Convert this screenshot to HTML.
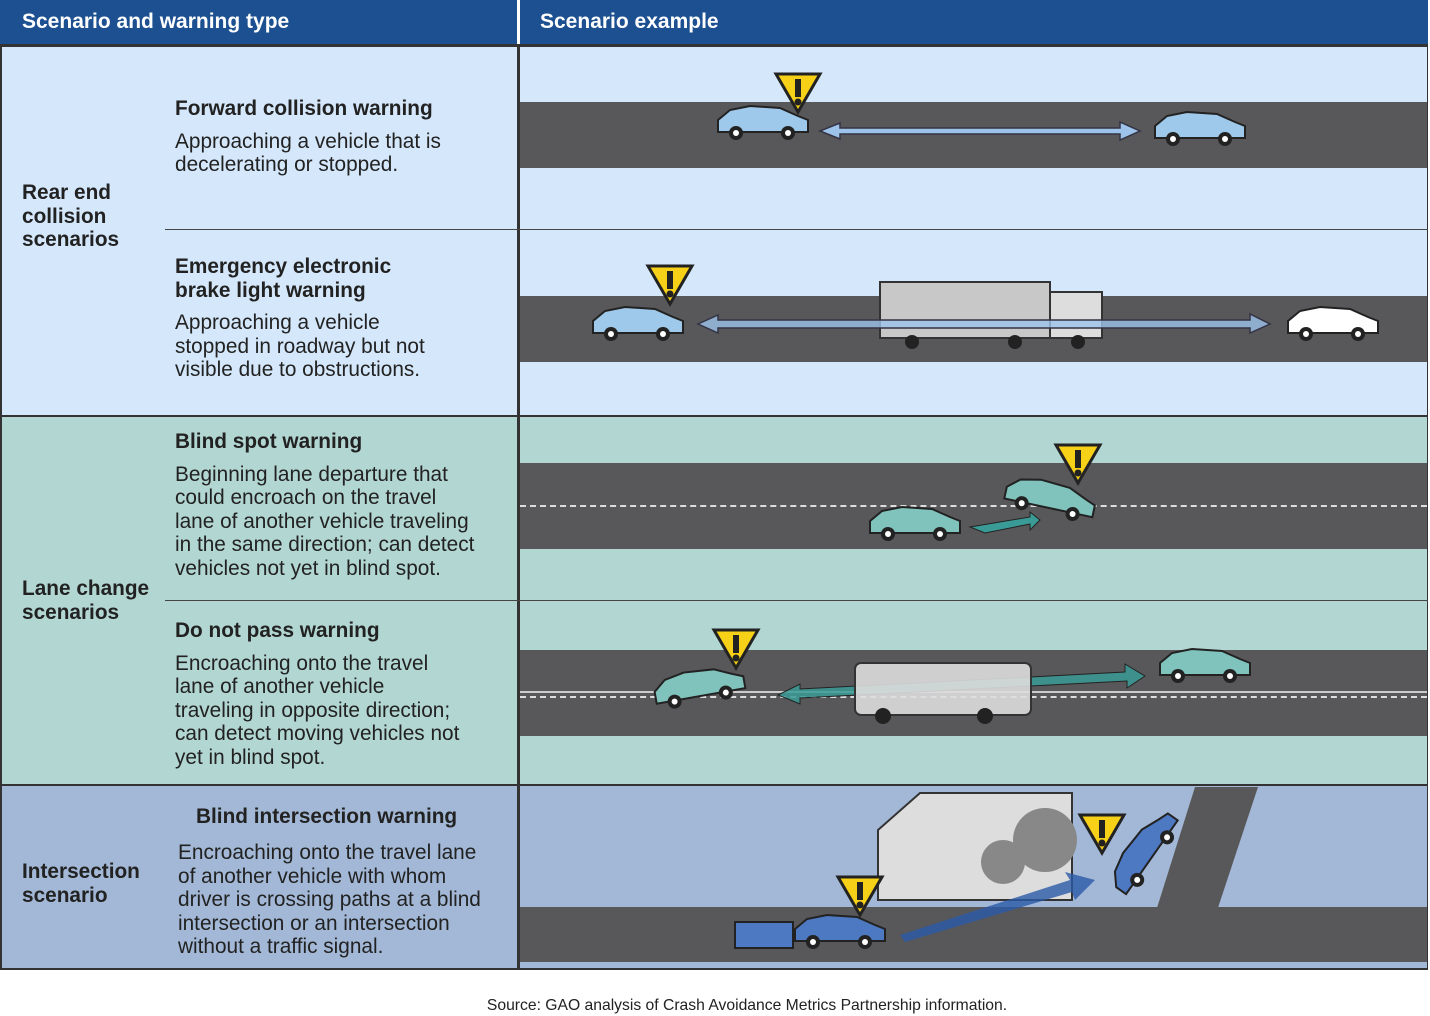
<!DOCTYPE html>
<html><head><meta charset="utf-8">
<style>
body{margin:0;width:1430px;height:1016px;background:#fff;font-family:"Liberation Sans",Arial,sans-serif;position:relative;overflow:hidden}
.abs{position:absolute}
.hdr{background:#1d5091;color:#fff;font-weight:bold;font-size:21px;line-height:44px;height:44px}
.t{font-size:20.8px;color:#222;line-height:23.5px;white-space:nowrap}
.b{font-weight:bold}
</style></head><body>
<div class="abs" style="left:0;top:0;width:1428px;height:970px;border:2px solid #333;box-sizing:border-box"></div>
<div class="abs hdr" style="left:0;top:0;width:517px;padding-left:22px;box-sizing:border-box">Scenario and warning type</div>
<div class="abs hdr" style="left:520px;top:0;width:908px;padding-left:20px;box-sizing:border-box">Scenario example</div>
<div class="abs" style="left:0;top:44px;width:1428px;height:3px;background:#333"></div>

<div class="abs" style="left:2px;top:47px;width:1425px;height:368px;background:#d5e8fb"></div>
<div class="abs" style="left:2px;top:417px;width:1425px;height:367px;background:#b2d6d2"></div>
<div class="abs" style="left:2px;top:786px;width:1425px;height:182px;background:#a2b8d6"></div>
<div class="abs" style="left:0;top:415px;width:1428px;height:2px;background:#333"></div>
<div class="abs" style="left:0;top:784px;width:1428px;height:2px;background:#333"></div>
<div class="abs" style="left:517px;top:0;width:3px;height:970px;background:#333"></div>
<div class="abs" style="left:517px;top:0;width:3px;height:44px;background:#fff"></div>
<div class="abs" style="left:165px;top:229px;width:1263px;height:1px;background:#444"></div>
<div class="abs" style="left:165px;top:600px;width:1263px;height:1px;background:#444"></div>

<div class="abs" style="left:520px;top:102px;width:907px;height:66px;background:#58585a"></div>
<div class="abs" style="left:520px;top:296px;width:907px;height:66px;background:#58585a"></div>
<div class="abs" style="left:520px;top:463px;width:907px;height:86px;background:#58585a"></div>
<div class="abs" style="left:520px;top:650px;width:907px;height:86px;background:#58585a"></div>
<div class="abs" style="left:520px;top:907px;width:907px;height:55px;background:#58585a"></div>
<div class="abs" style="left:520px;top:505px;width:907px;border-top:2px dashed #ddd"></div>
<div class="abs" style="left:520px;top:691px;width:907px;border-top:2px solid #ccc"></div>
<div class="abs" style="left:520px;top:696px;width:907px;border-top:2px dashed #ddd"></div>

<div class="abs t b" style="left:22px;top:181px">Rear end<br>collision<br>scenarios</div>
<div class="abs t b" style="left:22px;top:577px">Lane change<br>scenarios</div>
<div class="abs t b" style="left:22px;top:860px">Intersection<br>scenario</div>

<div class="abs t" style="left:175px;top:97px"><span class="b">Forward collision warning</span><div style="margin-top:9px">Approaching a vehicle that is<br>decelerating or stopped.</div></div>
<div class="abs t" style="left:175px;top:255px"><span class="b">Emergency electronic<br>brake light warning</span><div style="margin-top:9px">Approaching a vehicle<br>stopped in roadway but not<br>visible due to obstructions.</div></div>
<div class="abs t" style="left:175px;top:430px"><span class="b">Blind spot warning</span><div style="margin-top:9px">Beginning lane departure that<br>could encroach on the travel<br>lane of another vehicle traveling<br>in the same direction; can detect<br>vehicles not yet in blind spot.</div></div>
<div class="abs t" style="left:175px;top:619px"><span class="b">Do not pass warning</span><div style="margin-top:9px">Encroaching onto the travel<br>lane of another vehicle<br>traveling in opposite direction;<br>can detect moving vehicles not<br>yet in blind spot.</div></div>
<div class="abs t b" style="left:196px;top:805px">Blind intersection warning</div>
<div class="abs t" style="left:178px;top:841px">Encroaching onto the travel lane<br>of another vehicle with whom<br>driver is crossing paths at a blind<br>intersection or an intersection<br>without a traffic signal.</div>

<div class="abs" style="left:0;width:1494px;top:997px;text-align:center;font-size:15.7px;color:#222">Source: GAO analysis of Crash Avoidance Metrics Partnership information.</div>

<svg class="abs" style="left:0;top:0" width="1430" height="1016">
<defs>
<g id="warn"><polygon points="0,0 44,0 22,38" fill="#f7d117" stroke="#222" stroke-width="3"/><rect x="19" y="5" width="6" height="18" fill="#222"/><circle cx="22" cy="28" r="3.5" fill="#222"/></g>
<g id="car"><path d="M0,14 L12,4 L32,0 L62,2 L80,10 L90,14 L90,26 L0,26Z" stroke="#222" stroke-width="2"/><circle cx="18" cy="27" r="7" fill="#222"/><circle cx="70" cy="27" r="7" fill="#222"/><circle cx="18" cy="27" r="3" fill="#fff"/><circle cx="70" cy="27" r="3" fill="#fff"/></g>
</defs>
<polygon points="820,131 840,123 840,128 1120,128 1120,122 1140,131 1120,140 1120,134 840,134 840,139" fill="#9ec3ea" stroke="#334" stroke-width="1.5"/>
<use href="#car" x="718" y="106" fill="#9ec9ea"/>
<use href="#car" x="1155" y="112" fill="#9ec9ea"/>
<use href="#warn" x="776" y="74"/>
<rect x="880" y="282" width="170" height="56" fill="#c8c8c8" stroke="#333" stroke-width="2"/>
<rect x="1050" y="292" width="52" height="46" fill="#ddd" stroke="#333" stroke-width="2"/>
<circle cx="912" cy="342" r="7" fill="#222"/><circle cx="1015" cy="342" r="7" fill="#222"/><circle cx="1078" cy="342" r="7" fill="#222"/>
<polygon points="698,324 718,315 718,320 1250,320 1250,314 1270,324 1250,333 1250,328 718,328 718,333" fill="#9ec3ea" fill-opacity="0.8" stroke="#334" stroke-width="1.5"/>
<use href="#car" x="593" y="307" fill="#9ec9ea"/>
<use href="#car" x="1288" y="307" fill="#fff"/>
<use href="#warn" x="648" y="266"/>
<polygon points="970,527 1030,517 1030,512 1040,520 1030,530 1030,524 985,533" fill="#3a9a95" stroke="#222"/>
<use href="#car" x="870" y="507" fill="#7fc3bc"/>
<use href="#car" x="1005" y="482" fill="#7fc3bc" transform="rotate(12 1050 500)"/>
<use href="#warn" x="1056" y="445"/>
<polygon points="778,695 800,684 800,689 1125,672 1125,664 1145,676 1127,688 1127,681 800,698 800,704" fill="#3a9a95" fill-opacity="0.85" stroke="#222"/>
<rect x="855" y="663" width="176" height="52" rx="6" fill="#ddd" fill-opacity="0.9" stroke="#333" stroke-width="2"/>
<circle cx="883" cy="716" r="8" fill="#222"/><circle cx="985" cy="716" r="8" fill="#222"/>
<use href="#car" x="655" y="670" fill="#7fc3bc" transform="rotate(-10 700 690)"/>
<use href="#car" x="1160" y="649" fill="#7fc3bc"/>
<use href="#warn" x="714" y="630"/>
<polygon points="1140,962 1195,787 1258,787 1200,962" fill="#58585a"/>
<polygon points="878,830 920,793 1072,793 1072,900 878,900" fill="#ddd" stroke="#333" stroke-width="2"/>
<circle cx="1045" cy="840" r="32" fill="#888"/><circle cx="1003" cy="862" r="22" fill="#888"/>
<polygon points="900,935 1070,880 1065,872 1095,880 1075,900 1072,892 905,942" fill="#2a5aa8" fill-opacity="0.8"/>
<rect x="735" y="922" width="58" height="26" fill="#4d78c2" stroke="#222" stroke-width="2"/>
<use href="#car" x="795" y="915" fill="#4d78c2"/>
<use href="#car" x="1100" y="840" fill="#4d78c2" transform="rotate(-55 1140 855)"/>
<use href="#warn" x="838" y="877"/>
<use href="#warn" x="1080" y="815"/>
</svg>
</body></html>
